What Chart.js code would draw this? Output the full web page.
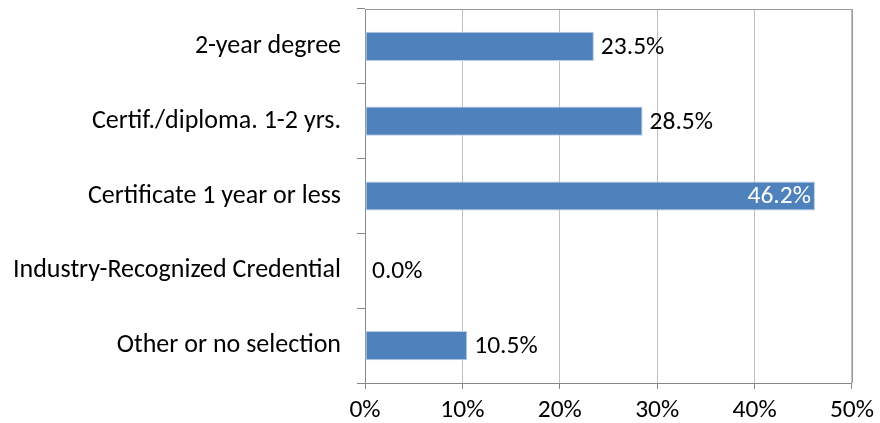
<!DOCTYPE html>
<html>
<head>
<meta charset="utf-8">
<script src="https://cdn.jsdelivr.net/npm/chart.js@4"></script>
<style>
  html, body { margin: 0; padding: 0; background: #fff; }
  #wrap { width: 880px; height: 423px; }
</style>
</head>
<body>
<div id="wrap"><canvas id="grafico"></canvas></div>
<script>
var categorias = ["2-year degree", "Certif./diploma. 1-2 yrs.", "Certificate 1 year or less", "Industry-Recognized Credential", "Other or no selection"];
var valores = [23.5, 28.5, 46.2, 0.0, 10.5];
var ticksX = [0, 10, 20, 30, 40, 50];

var fonte = "Carlito, Calibri, 'Open Sans', sans-serif";
var tamanho = 25.5;

// rotulos no fim das barras + borda de cima e da direita
var rotulos = {
    id: "rotulos",
    afterDatasetsDraw: function(chart) {
        var ctx = chart.ctx;
        var area = chart.chartArea;
        var meta = chart.getDatasetMeta(0);
        ctx.save();
        ctx.strokeStyle = "#999";
        ctx.lineWidth = 1;
        ctx.beginPath();
        ctx.moveTo(area.left, Math.round(area.top) + 0.5);
        ctx.lineTo(Math.round(area.right) + 0.5, Math.round(area.top) + 0.5);
        ctx.lineTo(Math.round(area.right) + 0.5, area.bottom);
        ctx.stroke();

        ctx.font = tamanho + "px " + fonte;
        ctx.textBaseline = "middle";
        meta.data.forEach(function(bar, i) {
            var txt = valores[i].toFixed(1) + "%";
            if (valores[i] > 40) {
                ctx.fillStyle = "#ffffff";
                ctx.textAlign = "right";
                ctx.fillText(txt, bar.x - 4, bar.y + 1);
            } else {
                ctx.fillStyle = "#000000";
                ctx.textAlign = "left";
                ctx.fillText(txt, bar.x + 7, bar.y + 1);
            }
        });
        ctx.restore();
    }
};

var grafico = new Chart(document.getElementById("grafico"), {
    type: "bar",
    data: {
        labels: categorias,
        datasets: [{
            data: valores,
            backgroundColor: "#4f81bd",
            borderColor: "#b9cde5",
            borderWidth: 1,
            borderSkipped: false,
            categoryPercentage: 1.0,
            barPercentage: 0.39
        }]
    },
    options: {
        indexAxis: "y",
        responsive: true,
        maintainAspectRatio: false,
        animation: false,
        layout: { padding: { top: 9, right: 28, left: 0, bottom: 0 } },
        plugins: {
            legend: { display: false },
            tooltip: { enabled: false }
        },
        scales: {
            x: {
                min: 0,
                max: 50,
                afterBuildTicks: function(scale) {
                    scale.ticks = ticksX.map(function(v) { return { value: v }; });
                },
                ticks: {
                    color: "#000",
                    font: { size: tamanho, family: fonte },
                    padding: 6,
                    maxRotation: 0,
                    callback: function(v) { return v + "%"; }
                },
                grid: {
                    color: "#c0c0c0",
                    lineWidth: 1,
                    tickLength: 6,
                    tickColor: "#888"
                },
                border: { color: "#888", width: 1 },
                afterFit: function(scale) { scale.height = 40; }
            },
            y: {
                ticks: {
                    color: "#000",
                    font: { size: 26, family: fonte },
                    padding: 16
                },
                grid: {
                    offset: true,
                    drawOnChartArea: false,
                    tickLength: 8,
                    tickColor: "#888"
                },
                border: { color: "#888", width: 1 },
                afterFit: function(scale) {
                    scale.width = 365;
                    scale.paddingTop = 0;
                    scale.paddingBottom = 0;
                }
            }
        }
    },
    plugins: [rotulos]
});
</script>
</body>
</html>
